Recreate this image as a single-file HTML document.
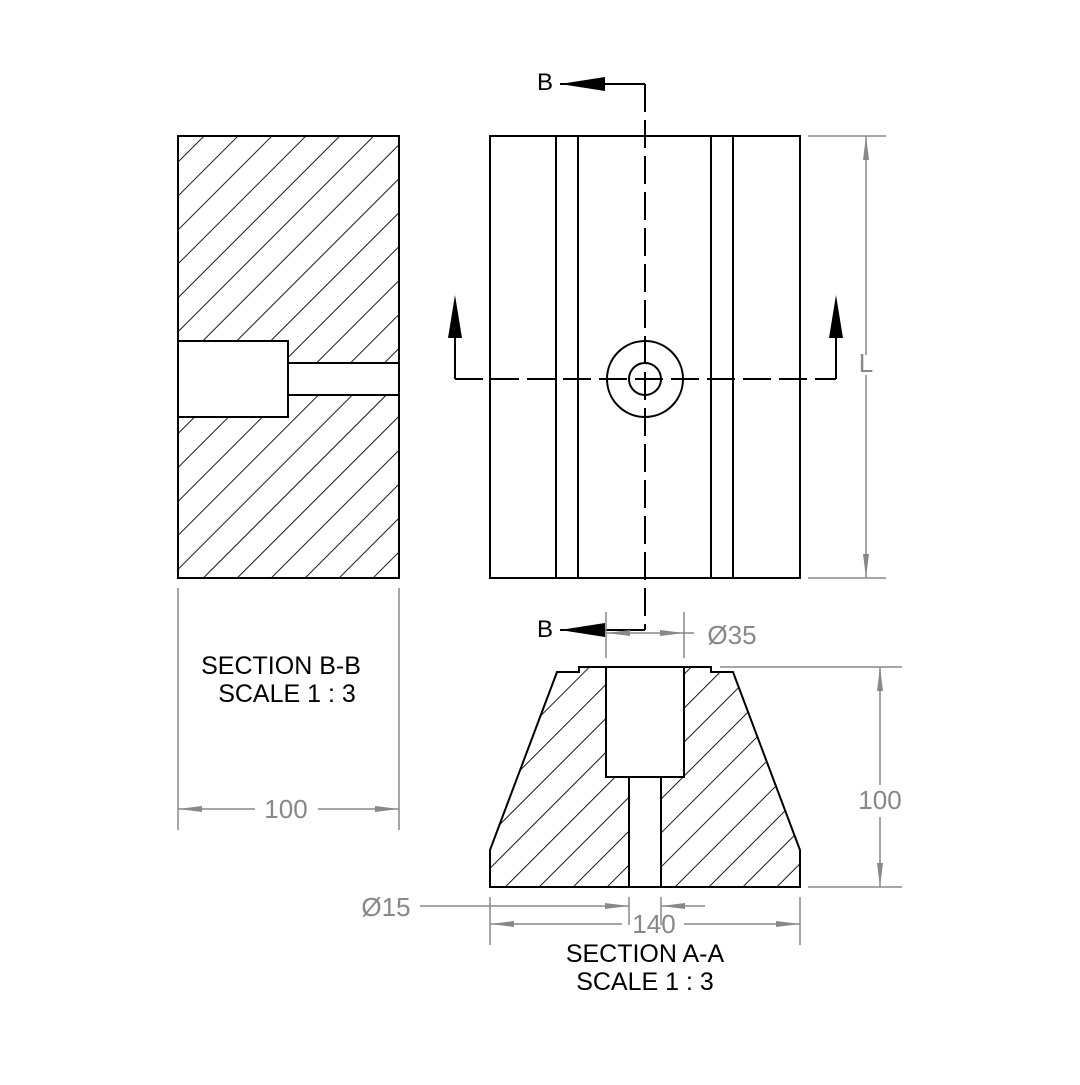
<!DOCTYPE html>
<html><head><style>body{margin:0;background:#fff}</style></head><body>
<svg width="1080" height="1080" viewBox="0 0 1080 1080" xmlns="http://www.w3.org/2000/svg" font-family="Liberation Sans, sans-serif">
<defs>
<pattern id="h" patternUnits="userSpaceOnUse" width="24" height="24" patternTransform="rotate(45)">
<line x1="0" y1="0" x2="0" y2="24" stroke="#000" stroke-width="1.8"/>
</pattern>
<marker id="ga" markerWidth="24" markerHeight="8" refX="24" refY="4" orient="auto-start-reverse" markerUnits="userSpaceOnUse"><path d="M0,1 L24,4 L0,7z" fill="#888"/></marker>
</defs>
<g fill="none" stroke="#000" stroke-width="2">
<!-- Section B-B -->
<path d="M178,136H399V363H288V341H178Z M178,417H288V395H399V578H178Z" fill="url(#h)" stroke="none"/>
<rect x="178" y="136" width="221" height="442"/>
<rect x="178" y="341" width="110" height="76" fill="#fff"/>
<path d="M288,363H399M288,395H399"/>
<!-- Front view -->
<rect x="490" y="136" width="310" height="442"/>
<path d="M556,136V578M578,136V578M711,136V578M733,136V578"/>
<circle cx="645" cy="379" r="38"/>
<circle cx="645" cy="379" r="16"/>
<!-- Section A-A -->
<path d="M579,667H606V777H629V887H490V850L557,672H579Z M661,887V777H684V667H711V672H733L800,850V887Z" fill="url(#h)"/>
<path d="M606,667H684V777H606Z M629,777V887M661,777V887M490,887H800"/>
</g>
<!-- centerlines -->
<g stroke="#000" stroke-width="2" fill="none">
<path d="M455,379H836" stroke-dasharray="28,8"/>
<path d="M645,84V630" stroke-dasharray="28,8"/>
<path d="M455,379V330M836,379V330M560,84H645M560,630H645"/>
</g>
<g fill="#000">
<path d="M455,295L448,338H462Z"/><path d="M836,295L829,338H843Z"/>
<path d="M560,84L605,77V91Z"/><path d="M560,630L605,623V637Z"/>
</g>
<g font-size="24" fill="#000">
<text x="537" y="90">B</text><text x="537" y="637">B</text>
</g>
<!-- dimensions -->
<g stroke="#888" stroke-width="1.5" fill="none">
<path d="M808,136H886M808,578H886"/>
<path d="M866,136V355M866,375V578" marker-start="url(#ga)" marker-end="url(#ga)"/>
<path d="M720,667H902M808,887H902"/>
<path d="M880,667V785M880,817V887" marker-start="url(#ga)" marker-end="url(#ga)"/>
<path d="M178,588V830M399,588V830"/>
<path d="M178,809H255" marker-start="url(#ga)"/><path d="M318,809H399" marker-end="url(#ga)"/>
<path d="M606,612V658M684,612V658"/>
<path d="M606,633H684" marker-start="url(#ga)" marker-end="url(#ga)"/><path d="M684,633H694"/>
<path d="M490,897V945M800,897V945M629,897V925M661,897V925"/>
<path d="M420,906H629" marker-end="url(#ga)"/><path d="M705,906H661" marker-end="url(#ga)"/>
<path d="M490,924H622" marker-start="url(#ga)"/><path d="M684,924H800" marker-end="url(#ga)"/>
</g>
<g font-size="26" fill="#888" text-anchor="middle">
<text x="866" y="372">L</text>
<text x="880" y="809">100</text>
<text x="286" y="818">100</text>
<text x="732" y="644">Ø35</text>
<text x="386" y="916">Ø15</text>
<text x="654" y="933">140</text>
</g>
<g font-size="25" fill="#000" text-anchor="middle">
<text x="281" y="674">SECTION B-B</text>
<text x="287" y="702">SCALE 1 : 3</text>
<text x="645" y="962">SECTION A-A</text>
<text x="645" y="990">SCALE 1 : 3</text>
</g>
</svg>
</body></html>
